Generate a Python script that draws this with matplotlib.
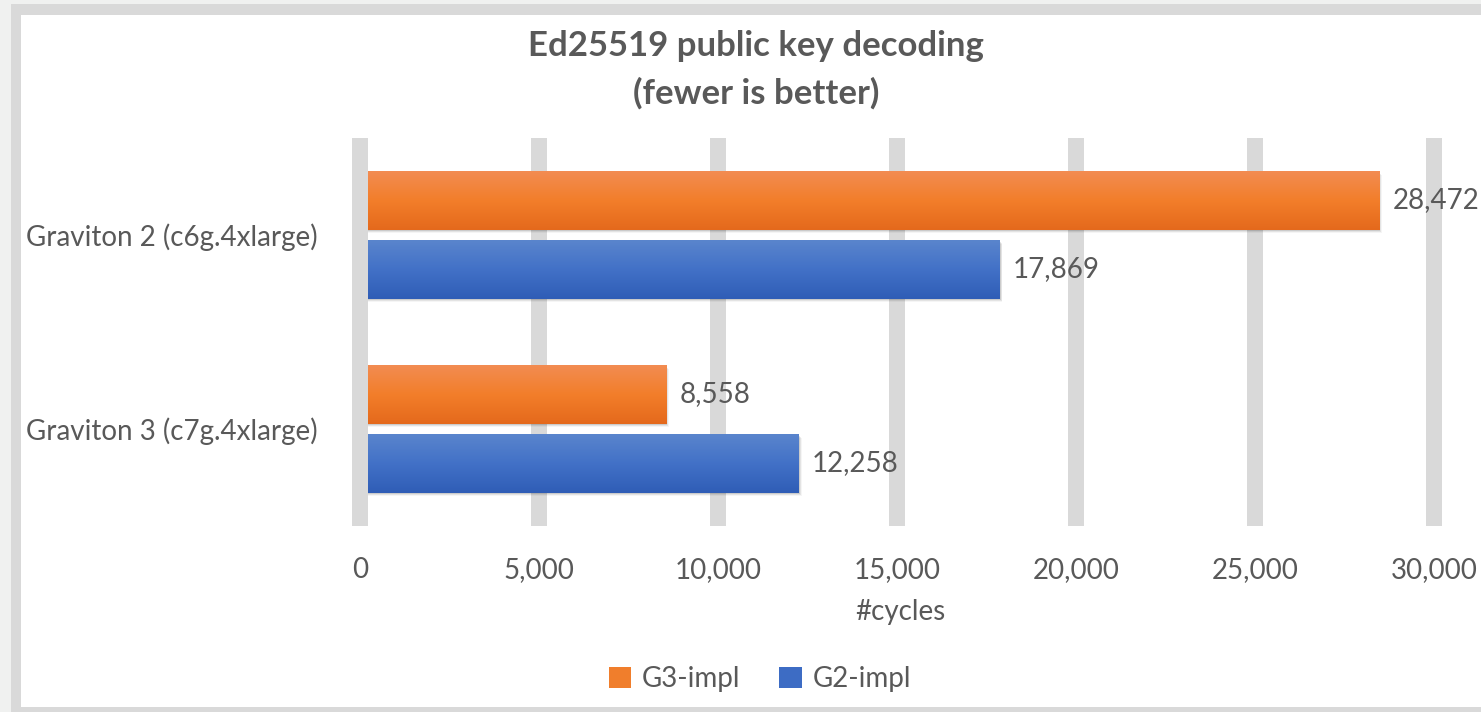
import matplotlib
matplotlib.use("Agg")
import matplotlib.pyplot as plt
import numpy as np
from matplotlib.patches import Rectangle, Patch
from matplotlib.colors import LinearSegmentedColormap
import matplotlib.ticker as mticker

# ---- data ----
categories = ["Graviton 2 (c6g.4xlarge)", "Graviton 3 (c7g.4xlarge)"]
series_names = ["G3-impl", "G2-impl"]
g3_values = [28472, 8558]
g2_values = [17869, 12258]
x_ticks = [0, 5000, 10000, 15000, 20000, 25000, 30000]

title_lines = ["Ed25519 public key decoding", "(fewer is better)"]
xlabel = "#cycles"

# ---- style ----
plt.rcParams['font.family'] = ['Lato', 'DejaVu Sans']
TXT = "#595959"
ORANGE = "#F07E2C"
BLUE = "#3D6CC4"
orange_grad = ["#F28C52", "#F37E2A", "#E4691C"]
blue_grad = ["#5A85CD", "#4271C7", "#2F5DB6"]

W, H = 1481, 712
fig = plt.figure(figsize=(W / 100, H / 100), dpi=100)
fig.patch.set_facecolor("#F0F1F0")

def px_rect(x0, y0, x1, y1, color, z):
    fig.patches.append(Rectangle((x0 / W, 1 - y1 / H), (x1 - x0) / W, (y1 - y0) / H,
                                 transform=fig.transFigure, facecolor=color,
                                 edgecolor="none", zorder=z))

px_rect(11, 4, W + 5, H + 5, "#D9D9D9", -10)
px_rect(21, 15, W + 5, 707, "#FFFFFF", -9)

ax_l, ax_r, ax_t, ax_b = 340, 1460, 138, 526
ax = fig.add_axes([ax_l / W, 1 - ax_b / H, (ax_r - ax_l) / W, (ax_b - ax_t) / H])
ax.set_facecolor("none")

x0px, scale = 360.0, (1434 - 360) / 30000.0
xlim = ((ax_l - x0px) / scale, (ax_r - x0px) / scale)

y = np.arange(len(categories))
off = 0.178
h = 0.30

grid_lw = 16 * 72 / 100
for t in x_ticks:
    ax.axvline(t, color="#D9D9D9", lw=grid_lw, zorder=0 if t != 0 else 5, solid_capstyle="butt")

def grad_bars(vals, ypos, colors, base):
    bars = ax.barh(ypos, vals, height=h, color=base, zorder=3)
    cmap = LinearSegmentedColormap.from_list("g", colors)
    grad = np.linspace(0, 1, 256).reshape(-1, 1)
    for b in bars:
        x, yy = b.get_x(), b.get_y()
        w, hh = b.get_width(), b.get_height()
        for k, a in enumerate([0.10, 0.07, 0.04]):
            ax.add_patch(Rectangle((x, yy + 0.006 * (k + 1)), w + 25 * (k + 1), hh,
                                   facecolor="black", alpha=a, edgecolor="none", zorder=2))
        im = ax.imshow(grad, aspect="auto", cmap=cmap, extent=(x, x + w, yy + hh, yy),
                       zorder=3.5, interpolation="bilinear")
        im.set_clip_path(b)
    return bars

b1 = grad_bars(g3_values, y - off, orange_grad, ORANGE)
b2 = grad_bars(g2_values, y + off, blue_grad, BLUE)
ax.set_xlim(*xlim)
ax.set_ylim(1.5, -0.5)

for bars in (b1, b2):
    for b in bars:
        v = b.get_width()
        ax.annotate(f"{int(v):,}", (v, b.get_y() + b.get_height() / 2),
                    xytext=(13, 0), textcoords="offset pixels", va="center", ha="left",
                    fontsize=20, color=TXT, zorder=6, annotation_clip=False)

ax.set_yticks(y)
ax.set_yticklabels(categories, fontsize=20, color=TXT)
ax.set_xticks(x_ticks)
ax.xaxis.set_major_formatter(mticker.FuncFormatter(lambda v, p: f"{int(v):,}"))
ax.tick_params(axis="x", labelsize=20, labelcolor=TXT, length=0, pad=22)
ax.tick_params(axis="y", length=0, pad=16)
for s in ax.spines.values():
    s.set_visible(False)

ax.set_xlabel(xlabel, fontsize=20, color=TXT, labelpad=12)

for ty, line in zip([46, 93], title_lines):
    fig.text(756 / W, 1 - ty / H, line, ha="center", va="center", fontsize=25,
             fontweight="bold", color=TXT)

handles = [Patch(facecolor=ORANGE, label=series_names[0]),
           Patch(facecolor=BLUE, label=series_names[1])]
fig.legend(handles=handles, loc="center", bbox_to_anchor=(760 / W, 1 - 679 / H), ncol=2,
           frameon=False, fontsize=20, labelcolor=TXT, handlelength=0.8, handleheight=0.8,
           handletextpad=0.4, columnspacing=1.4)

fig.savefig("out.png", dpi=100, facecolor=fig.get_facecolor())
